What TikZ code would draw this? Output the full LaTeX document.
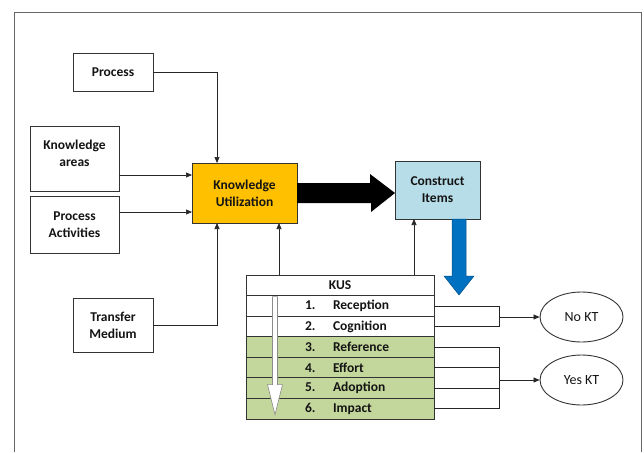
\documentclass[tikz,border=0pt]{standalone}
\usepackage{fontspec}
\setmainfont{Carlito}
\usepackage{xcolor}
\usetikzlibrary{shapes.geometric,arrows.meta,positioning,calc}
\definecolor{kuorange}{HTML}{FFC000}
\definecolor{ciblue}{HTML}{B7DEE8}
\definecolor{kusgreen}{HTML}{C3D69B}
\definecolor{arrowblue}{HTML}{0070C0}
\tikzset{
  kunode/.style={
    rectangle, draw=black!80, fill=white, line width=0.9pt,
    inner sep=2pt, outer sep=0pt, align=center,
    font=\fontsize{13.5}{17}\selectfont\bfseries, text=black!92
  },
  kufocus/.style={kunode, fill=kuorange},
  kuitems/.style={kunode, fill=ciblue},
  kusrow/.style={
    kunode, minimum width=188pt, minimum height=20.57pt,
    text width=188pt, inner xsep=0pt, inner ysep=0pt, align=left
  },
  kushead/.style={kusrow, align=center},
  kuresult/.style={
    ellipse, draw=black!80, fill=white, line width=0.9pt,
    minimum width=83pt, minimum height=50pt, inner sep=0pt,
    font=\fontsize{14}{17}\selectfont, text=black!92
  },
  kuarrow/.style={-{Triangle[length=6pt,width=5pt]}, line width=0.7pt, draw=black!85},
  kuline/.style={line width=0.7pt, draw=black!85},
}

\begin{document}
\begin{tikzpicture}[x=1pt, y=-1pt]
  \useasboundingbox (0,0) rectangle (644,452);
  \draw[black!60, line width=0.8pt] (14,452) -- (14,12) -- (641,12) -- (641,452);

  \node (proc) [kunode, minimum width=80pt, minimum height=38pt] at (113,72) {Process};
  \node (karea) [kunode, minimum width=89pt, minimum height=65pt] at (74.5,158.5) {Knowledge\\areas\rule[-10pt]{0pt}{0pt}};
  \node (pact) [kunode, minimum width=89pt, minimum height=57pt] at (74.5,224.5) {Process\\Activities};
  \node (tmed) [kunode, minimum width=80pt, minimum height=54pt] at (113,325) {Transfer\\Medium};
  \node (ku) [kufocus, minimum width=105pt, minimum height=60pt] at (244.5,193) {Knowledge\\Utilization};
  \node (ci) [kuitems, minimum width=85pt, minimum height=58pt] at (437.5,190) {Construct\\Items};

  \node (kus) [kushead] at (340,285.3) {KUS};
  \node (r1) [kusrow, below=0pt of kus] {\hspace*{59pt}\makebox[28pt][l]{1.}Reception};
  \node (r2) [kusrow, below=0pt of r1] {\hspace*{59pt}\makebox[28pt][l]{2.}Cognition};
  \node (r3) [kusrow, fill=kusgreen, below=0pt of r2] {\hspace*{59pt}\makebox[28pt][l]{3.}Reference};
  \node (r4) [kusrow, fill=kusgreen, below=0pt of r3] {\hspace*{59pt}\makebox[28pt][l]{4.}Effort};
  \node (r5) [kusrow, fill=kusgreen, below=0pt of r4] {\hspace*{59pt}\makebox[28pt][l]{5.}Adoption};
  \node (r6) [kusrow, fill=kusgreen, below=0pt of r5] {\hspace*{59pt}\makebox[28pt][l]{6.}Impact};

  \node (nokt) [kuresult] at (581.5,317) {No KT};
  \node (yeskt) [kuresult] at (581.5,380) {Yes KT};

  % inputs into knowledge utilization
  \coordinate (kuin1) at ([yshift=18pt]ku.west);
  \coordinate (kuin2) at ([yshift=-19pt]ku.west);
  \coordinate (kuup) at ([xshift=-18pt]ku.south east);
  \coordinate (ciup) at ([xshift=19pt]ci.south west);
  \draw[kuarrow] (proc.east) -| ([xshift=25pt]ku.north west);
  \draw[kuarrow] (karea.east |- kuin1) -- (kuin1);
  \draw[kuarrow] (pact.east |- kuin2) -- (kuin2);
  \draw[kuarrow] (tmed.east) -| ([xshift=25pt]ku.south west);
  \draw[kuarrow] (kus.north -| kuup) -- (kuup);
  \draw[kuarrow] (kus.north -| ciup) -- (ciup);

  % thick arrows
  \fill[black] ([yshift=10pt]ku.east) -- ++(73,0) -- ++(0,-9) -- (ci.west |- ku.east)
    -- ++(-24,19) -- ++(0,-9) -- ([yshift=-10pt]ku.east) -- cycle;
  \coordinate (bl) at ([xshift=-21pt]ci.south east);
  \filldraw[fill=arrowblue, draw=arrowblue!70!black, line width=0.5pt]
    (bl) ++(-7,0) -- ++(0,57) -- ++(-8,0) -- ++(15,19) -- ++(15,-19) -- ++(-8,0) -- ++(0,-57) -- cycle;
  \filldraw[fill=white, draw=black!45, line width=0.6pt]
    ([xshift=26.5pt,yshift=-1pt]kus.south west) -- ++(0,88) -- ++(-5,0) -- ++(7.5,30)
    -- ++(7.5,-30) -- ++(-5,0) -- ++(0,-88) -- cycle;

  % outcome brackets
  \draw[kuline] (r1.east) -- ++(65,0) coordinate (b1) |- (r2.east);
  \draw[kuarrow] (b1 |- nokt.west) -- (nokt.west);
  \draw[kuline] (r3.east) -- ++(65,0) coordinate (b2) |- (r6.east);
  \draw[kuline] (r4.east) -- (b2 |- r4.east);
  \draw[kuline] (r5.east) -- (b2 |- r5.east);
  \draw[kuarrow] (b2 |- yeskt.west) -- (yeskt.west);
\end{tikzpicture}
\end{document}
